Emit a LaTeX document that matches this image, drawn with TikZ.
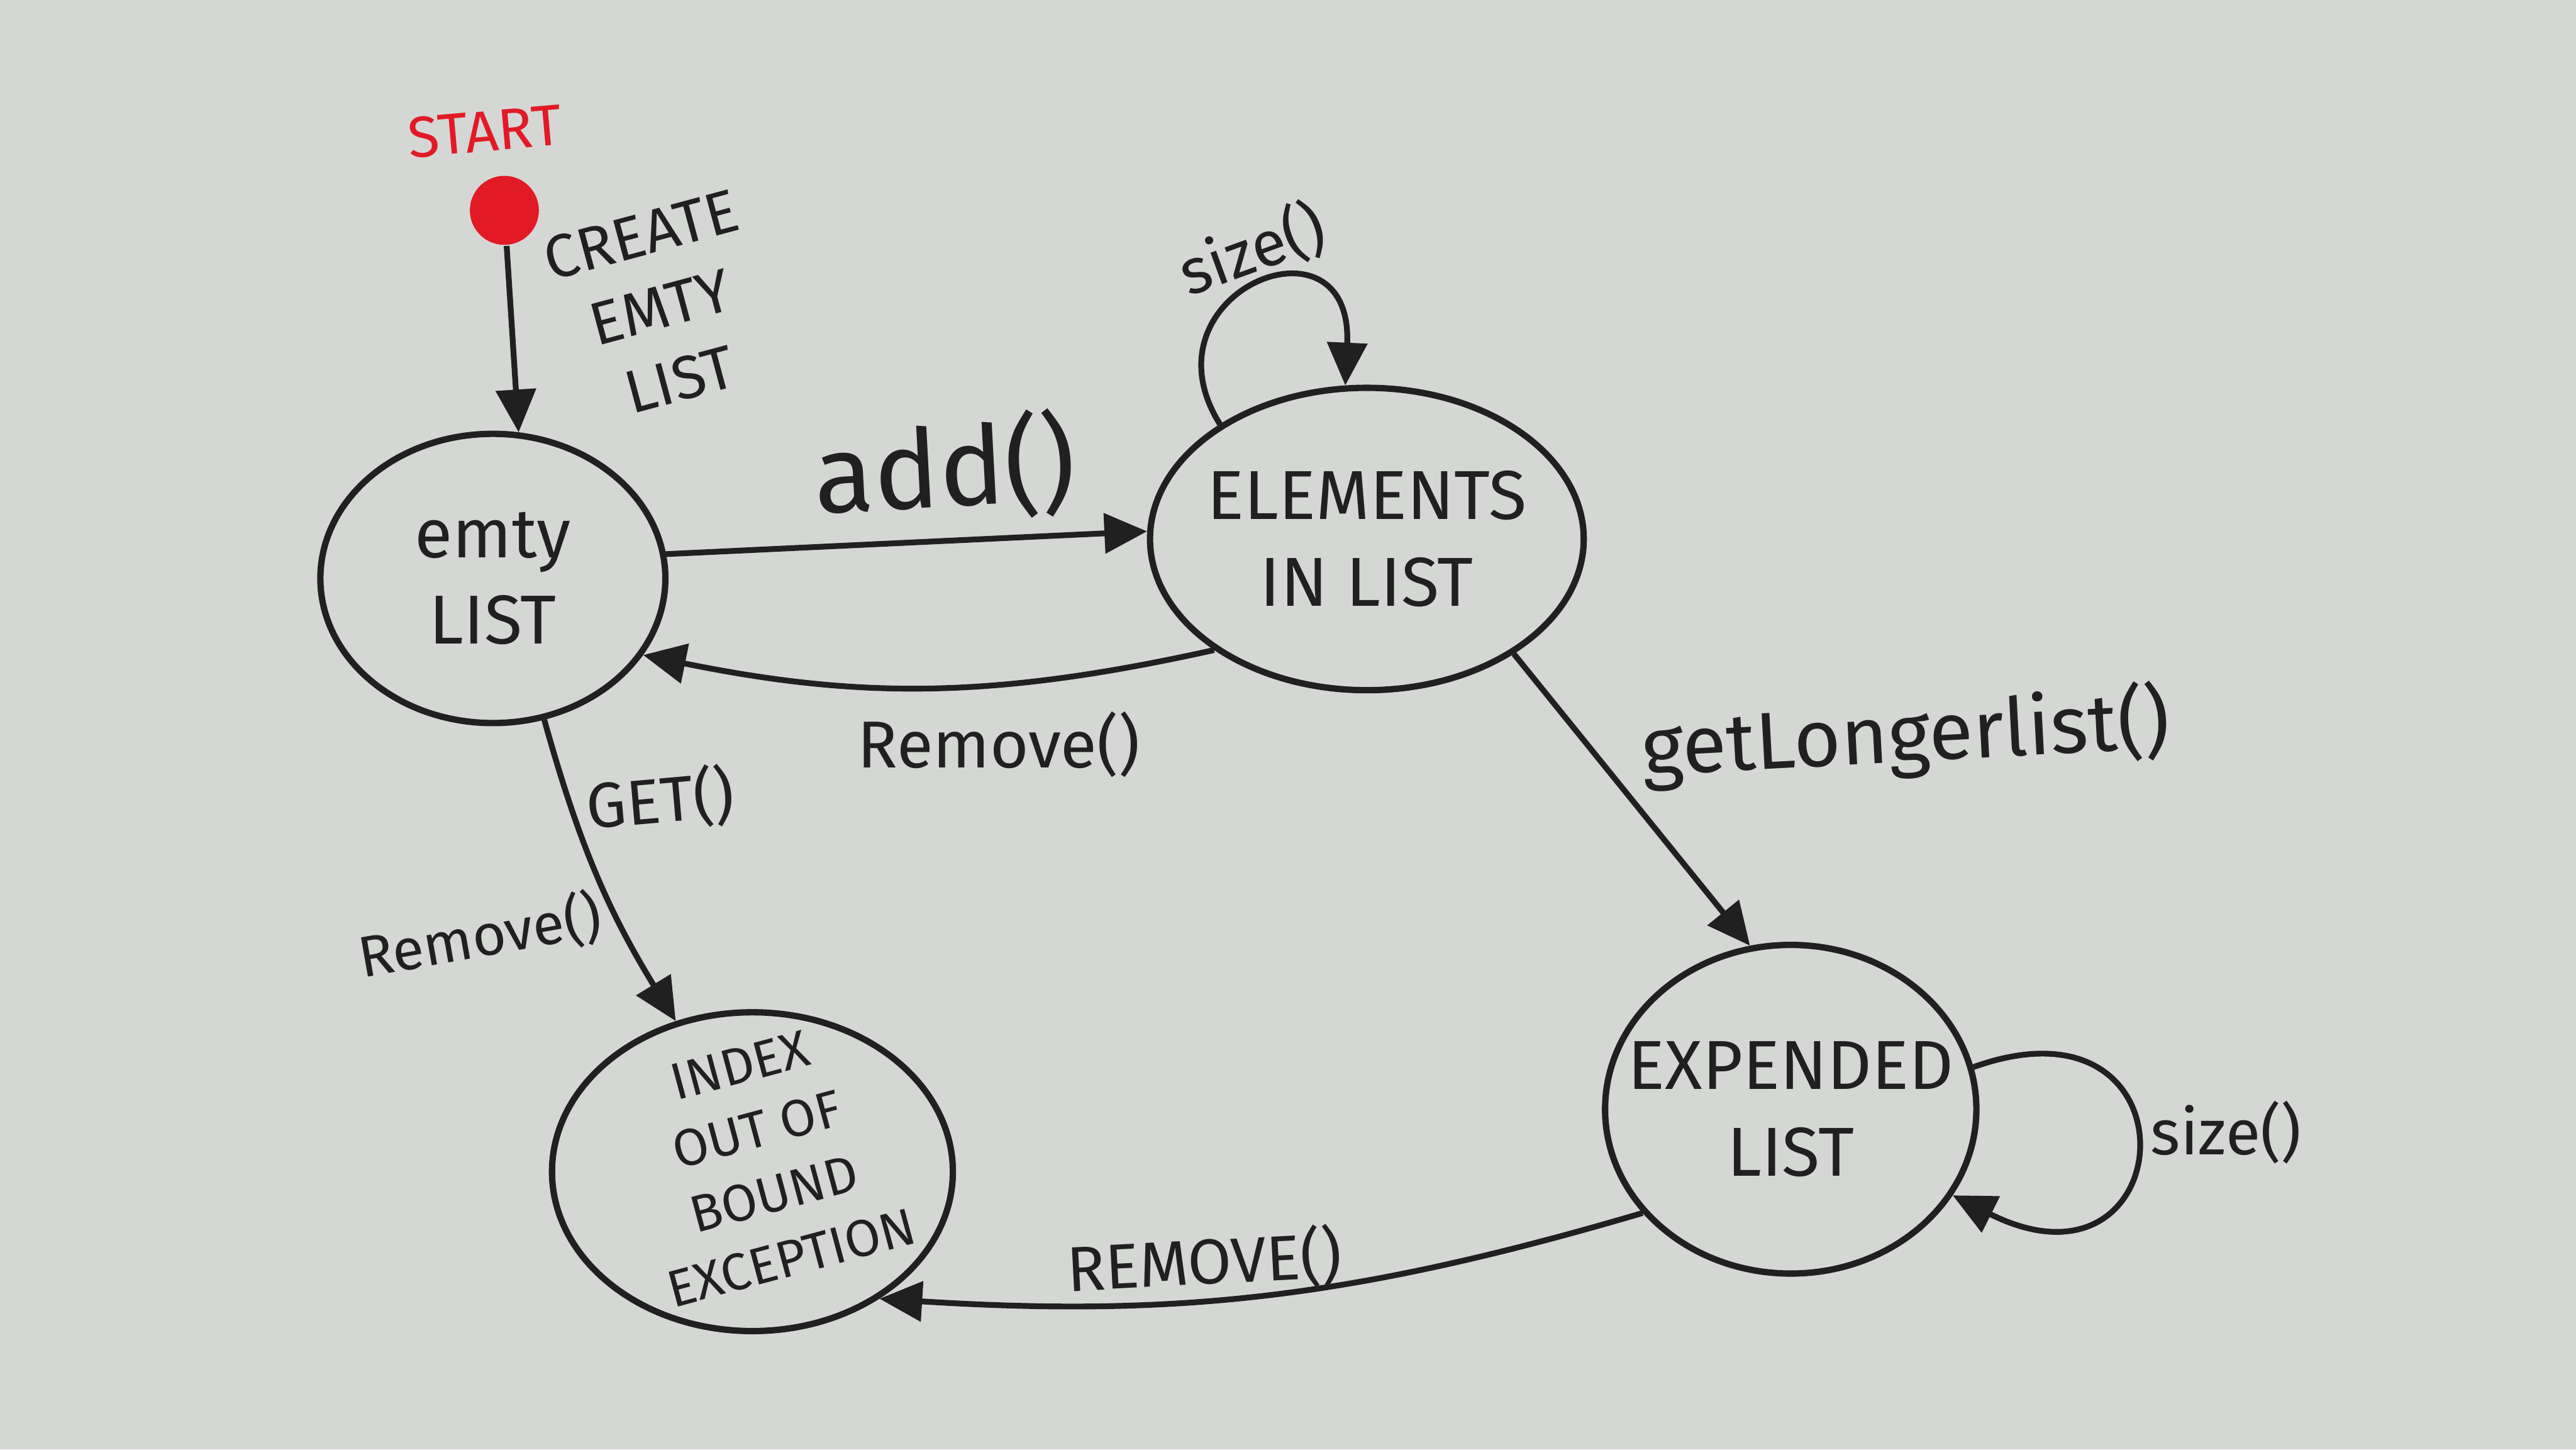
\documentclass[tikz,border=0pt]{standalone}
\usepackage{fontspec}
\setmainfont{Fira Sans}
\usetikzlibrary{arrows.meta,shapes.geometric}
\definecolor{board}{RGB}{213,215,213}
\definecolor{marker}{RGB}{32,32,32}
\definecolor{redmk}{RGB}{226,26,38}
\begin{document}
\begin{tikzpicture}[
  state/.style={ellipse, draw=marker, line width=1.1pt, inner sep=0pt},
  stext/.style={text=marker, align=center, font=\fontsize{12}{15}\selectfont},
  tr/.style={draw=marker, line width=1pt, -{Triangle[length=0.26cm,width=0.24cm]}},
  lbl/.style={text=marker, inner sep=1pt}
]
\fill[board] (0,0) rectangle (15.68,8.82);
\useasboundingbox (0,0) rectangle (15.68,8.82);

% start
\node[circle, fill=redmk, minimum size=0.42cm, inner sep=0pt] (start) at (3.07,7.54) {};
\node[text=redmk, font=\fontsize{10}{12}\selectfont, rotate=5] (startlbl) at (2.95,8.02) {START};

% states
\node[state, minimum width=2.1cm, minimum height=1.76cm] (empty) at (3.00,5.30) {};
\node[stext] (emptyt) at (empty) {emty\\LIST};
\node[state, minimum width=2.64cm, minimum height=1.84cm] (elem) at (8.32,5.54) {};
\node[stext] (elemt) at (elem) {ELEMENTS\\IN LIST};
\node[state, minimum width=2.26cm, minimum height=2.0cm] (exp) at (10.90,2.07) {};
\node[stext] (expt) at (exp) {EXPENDED\\LIST};
\node[state, minimum width=2.44cm, minimum height=1.94cm] (idx) at (4.58,1.69) {};
\node[stext, rotate=15, font=\fontsize{9}{11.5}\selectfont] (idxt) at ([xshift=0.08cm,yshift=0.06cm]idx.center) {INDEX\\OUT OF\\BOUND\\EXCEPTION};

% transitions
\draw[tr] (start) -- (empty.80);
\node[lbl, rotate=15, align=center, font=\fontsize{10.5}{13}\selectfont] (createlbl) at (4.02,6.95) {CREATE\\EMTY\\LIST};

\draw[tr] (empty.8) -- (elem.178);
\node[lbl, font=\fontsize{19}{21}\selectfont, rotate=3] (addlbl) at (5.75,5.97) {add()};

\draw[tr] (elem.216) to[bend left=12] (empty.333);
\node[lbl, font=\fontsize{11.5}{14}\selectfont] (remlbl) at (6.08,4.29) {Remove()};

\draw[tr] (elem.322) -- (exp.104);
\node[lbl, font=\fontsize{14}{16}\selectfont, rotate=3] (getlbl) at (11.6,4.34) {getLongerlist()};

\draw[tr] (elem.142) .. controls +(-0.5,0.8) and +(0.05,1.1) .. (elem.98);
\node[lbl, font=\fontsize{11}{13}\selectfont, rotate=20] (size1) at (7.62,7.3) {size()};

\draw[tr] (exp.13) .. controls +(1.4,0.5) and +(1.4,-0.7) .. (exp.-28);
\node[lbl, font=\fontsize{11}{13}\selectfont] (size2) at (13.55,1.93) {size()};

\draw[tr] (empty.290) to[bend right=8] (idx.117);
\node[lbl, font=\fontsize{11}{13}\selectfont, rotate=5] (getl) at (4.02,3.95) {GET()};
\node[lbl, font=\fontsize{10}{12}\selectfont, rotate=10] (rem2) at (2.92,3.12) {Remove()};

\draw[tr] (exp.215) to[bend left=10] (idx.315);
\node[lbl, font=\fontsize{11}{13}\selectfont, rotate=3] (rem3) at (7.33,1.14) {REMOVE()};
\end{tikzpicture}
\end{document}
